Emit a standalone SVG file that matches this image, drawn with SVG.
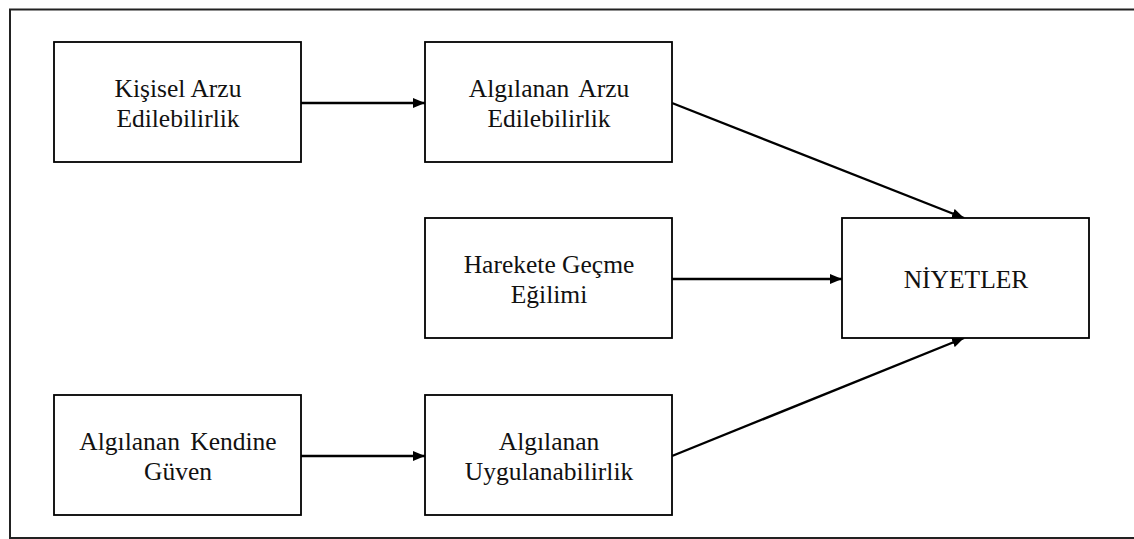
<svg xmlns="http://www.w3.org/2000/svg" width="1134" height="539" viewBox="0 0 1134 539">
<style>
.box{fill:#fff;stroke:#000;stroke-width:1.8}
.t{font-family:"Liberation Serif","Times New Roman",serif;font-size:25.5px;fill:#111;text-anchor:middle}
.c{stroke:#000;stroke-width:2.4;fill:none;marker-end:url(#ah)}
</style>
<defs>
<marker id="ah" viewBox="0 0 12 10" refX="12" refY="5" markerWidth="12" markerHeight="10" markerUnits="userSpaceOnUse" orient="auto">
<path d="M0,0 L12,5 L0,10 Z" fill="#000"/>
</marker>
</defs>
<rect width="1134" height="539" fill="#fff"/>
<path d="M1134,9.5 H10 V538 H1134" fill="none" stroke="#222" stroke-width="2"/>
<g id="connectors">
<line class="c" x1="301" y1="103" x2="425" y2="103"/>
<line class="c" x1="672" y1="103" x2="964" y2="218"/>
<line class="c" x1="672" y1="279" x2="842" y2="279"/>
<line class="c" x1="301" y1="456" x2="425" y2="456"/>
<line class="c" x1="672" y1="456" x2="964" y2="338"/>
</g>
<g id="kisisel">
<rect class="box" x="54" y="42" width="247" height="120"/>
<text class="t" x="178" y="97">Kişisel Arzu</text>
<text class="t" x="178" y="127">Edilebilirlik</text>
</g>
<g id="algilanan-arzu">
<rect class="box" x="425" y="42" width="247" height="120"/>
<text class="t" x="549" y="97" word-spacing="4">Algılanan Arzu</text>
<text class="t" x="549" y="127">Edilebilirlik</text>
</g>
<g id="harekete">
<rect class="box" x="425" y="218" width="247" height="120"/>
<text class="t" x="549" y="273">Harekete Geçme</text>
<text class="t" x="549" y="303">Eğilimi</text>
</g>
<g id="niyetler">
<rect class="box" x="842" y="218" width="247" height="120"/>
<text class="t" x="966" y="288">NİYETLER</text>
</g>
<g id="kendine-guven">
<rect class="box" x="54" y="395" width="247" height="120"/>
<text class="t" x="178" y="450" word-spacing="4">Algılanan Kendine</text>
<text class="t" x="178" y="480">Güven</text>
</g>
<g id="uygulanabilirlik">
<rect class="box" x="425" y="395" width="247" height="120"/>
<text class="t" x="549" y="450">Algılanan</text>
<text class="t" x="549" y="480">Uygulanabilirlik</text>
</g>
</svg>
